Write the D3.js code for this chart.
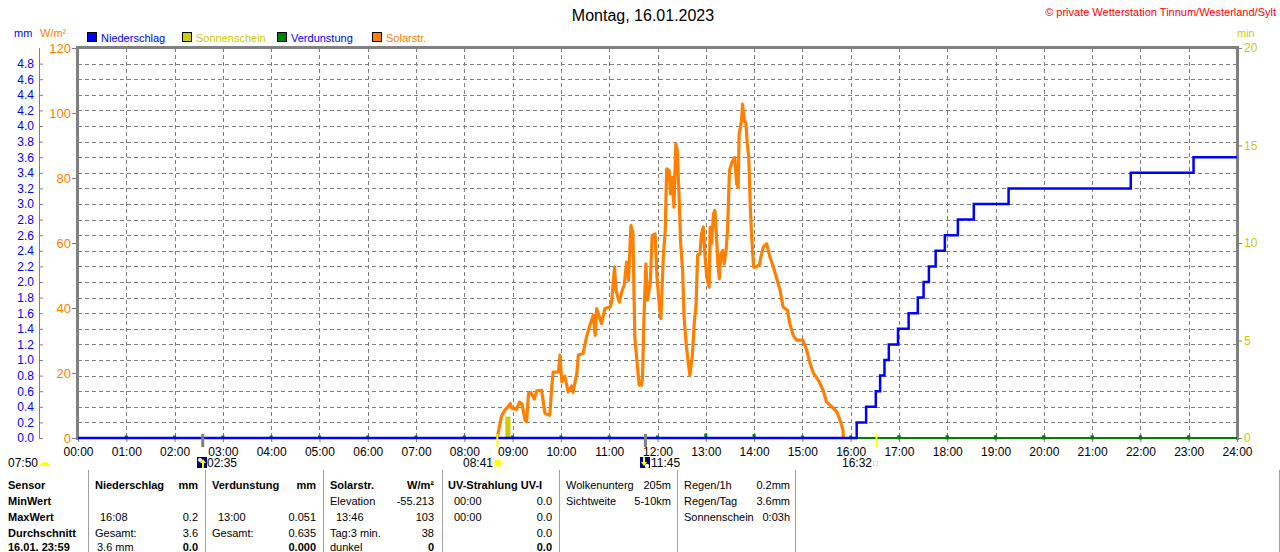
<!DOCTYPE html>
<html><head><meta charset="utf-8">
<script src="https://cdn.jsdelivr.net/npm/d3@7"></script>
<style>
body{margin:0;background:#fff;}
svg text{font-family:"Liberation Sans",Arial,sans-serif;font-size:12px;}
</style></head>
<body><svg id="c" width="1280" height="552"></svg>
<script>
// ---------- data ----------
const hourLabels = ["00:00","01:00","02:00","03:00","04:00","05:00","06:00","07:00","08:00","09:00","10:00","11:00","12:00","13:00","14:00","15:00","16:00","17:00","18:00","19:00","20:00","21:00","22:00","23:00","24:00"];
const mmTicks = [0.0,0.2,0.4,0.6,0.8,1.0,1.2,1.4,1.6,1.8,2.0,2.2,2.4,2.6,2.8,3.0,3.2,3.4,3.6,3.8,4.0,4.2,4.4,4.6,4.8];
const wTicks = [0,20,40,60,80,100,120];
const minTicks = [0,5,10,15,20];

// Niederschlag (cumulative mm), time in hours
const rainTime  = [0, 16.125, 16.32, 16.52, 16.61, 16.70, 16.79, 16.98, 17.20, 17.39, 17.51, 17.62, 17.76, 17.95, 18.22, 18.55, 19.27, 21.80, 23.10, 24];
const rainValue = [0, 0.2, 0.4, 0.6, 0.8, 1.0, 1.2, 1.4, 1.6, 1.8, 2.0, 2.2, 2.4, 2.6, 2.8, 3.0, 3.2, 3.4, 3.6, 3.6];

// Solarstrahlung W/m², time in hours
const solarTime  = [8.68,8.72,8.77,8.84,8.90,8.95,8.98,9.08,9.14,9.19,9.26,9.29,9.33,9.38,9.45,9.50,9.60,9.67,9.77,9.81,9.84,9.95,9.98,10.02,10.08,10.15,10.22,10.25,10.33,10.36,10.46,10.53,10.60,10.67,10.71,10.74,10.84,10.91,11.02,11.05,11.11,11.14,11.21,11.26,11.31,11.36,11.40,11.45,11.49,11.51,11.53,11.58,11.62,11.67,11.69,11.72,11.76,11.79,11.85,11.89,11.95,11.99,12.04,12.07,12.12,12.16,12.19,12.24,12.27,12.31,12.34,12.38,12.41,12.45,12.48,12.52,12.55,12.60,12.64,12.67,12.72,12.76,12.80,12.83,12.88,12.91,12.95,12.98,13.02,13.07,13.09,13.12,13.16,13.19,13.23,13.25,13.28,13.31,13.35,13.38,13.42,13.45,13.49,13.54,13.60,13.64,13.67,13.69,13.74,13.76,13.80,13.83,13.86,13.89,13.92,13.95,13.99,14.04,14.11,14.14,14.19,14.26,14.33,14.40,14.47,14.54,14.60,14.69,14.74,14.81,14.88,15.01,15.09,15.16,15.23,15.33,15.43,15.50,15.61,15.71,15.78,15.84,15.85];
const solarValue = [0,3,6.7,8.6,9.5,10.6,9.2,8.8,11,10.6,5.5,5,13.7,14,12,14.5,14.7,7.6,7,15.7,20.3,20.3,25.5,17.3,19,14.2,16,14,19.9,25.5,26,31.1,34.7,37.8,31.6,39.8,35.2,39.8,40.3,41.8,52.6,45.4,41.8,45,47,54.1,48.5,65.4,63.3,47.5,31.1,22.9,16.3,16.3,18.8,37.2,53.6,42.4,47.5,62.3,62.8,49.5,40.3,36.7,55.6,63.8,82.8,82.3,75.1,80.2,71,90.5,88.4,73,59.8,51.6,37.2,28,22.9,19.3,25,35.2,41.3,56.2,56.7,62.8,64.9,56.7,49.5,46.4,64.9,59.8,69,70,59.8,53.6,49,56.7,57.7,53.6,57.7,63.8,82.3,84.8,86.3,78.2,77.1,93.5,97.6,102.7,97.6,97,90.5,86.3,72,61.8,52.6,52.6,53.4,55.6,58.7,59.8,55.6,52.6,49,45.4,40.3,39.3,35.2,31.6,30.1,30.1,27,22.9,19.9,17.8,14.7,11.1,9.6,8.1,5.5,2.5,0];

// Sonnenschein (min)
const sunTime  = [8.85];
const sunWidth = [0.105];
const sunValue = [1.1];

// Verdunstung (mm) hourly
const evapHour  = [1,2,3,4,5,6,7,8,9,10,11,12,13,14,15,16,17,18,19,20,21,22,23];
const evapValue = [0,0,0,0,0,0,0,0,0,0,0,0,0.051,0.045,0,0,0,0,0,0,0,0,0];

// events below the axis
const sunriseTime = 8.683, sunsetTime = 16.533, moonriseTime = 2.583, moonsetTime = 11.75;

const legendNames  = ["Niederschlag","Sonnenschein","Verdunstung","Solarstr."];
const tableHead = [["Sensor","MinWert","MaxWert","Durchschnitt","16.01. 23:59"]];

// ---------- setup ----------
const svg = d3.select("#c");
const L = 78, R = 1237, T = 48, B = 438;
const x = d3.scaleLinear().domain([0,24]).range([L,R]);
const yW = d3.scaleLinear().domain([0,120]).range([B,T]);
const yMM = d3.scaleLinear().domain([0,5]).range([B,T]);
const yMin = d3.scaleLinear().domain([0,20]).range([B,T]);
const GRAY = "#808080", BLUE = "#0000ff", ORANGE = "#ff8000", OLIVE = "#cccc00", GREEN = "#008000";

// title
svg.append("text").attr("x",643).attr("y",21).attr("text-anchor","middle").style("font-size","16px").text("Montag, 16.01.2023");
svg.append("text").attr("x",1276).attr("y",16).attr("text-anchor","end").attr("fill","#ff0000").style("font-size","11px").text("© private Wetterstation Tinnum/Westerland/Sylt");

// unit labels
svg.append("text").attr("x",14).attr("y",37).attr("fill",BLUE).style("font-size","11px").text("mm");
svg.append("text").attr("x",40).attr("y",37).attr("fill",ORANGE).style("font-size","11px").text("W/m²");
svg.append("text").attr("x",1237).attr("y",37).attr("fill",OLIVE).style("font-size","11px").text("min");

// legend
const legColorsBox = [BLUE, OLIVE, GREEN, ORANGE];
const legColorsText = [BLUE, OLIVE, BLUE, ORANGE];
const legX = [87, 182, 277, 372];
legendNames.forEach((n,i)=>{
  svg.append("rect").attr("x",legX[i]+0.5).attr("y",32.5).attr("width",9).attr("height",9).attr("fill",legColorsBox[i]).attr("stroke","#000");
  svg.append("text").attr("x",legX[i]+14).attr("y",42).attr("fill",legColorsText[i]).style("font-size","11px").text(n);
});

// grid
const grid = svg.append("g");
mmTicks.filter(v=>v>0).forEach(v=>{
  grid.append("line").attr("x1",L).attr("x2",R).attr("y1",Math.round(yMM(v))+0.5).attr("y2",Math.round(yMM(v))+0.5)
    .attr("stroke",GRAY).attr("stroke-dasharray","4,3");
});
d3.range(1,24).forEach(h=>{
  grid.append("line").attr("x1",Math.round(x(h))+0.5).attr("x2",Math.round(x(h))+0.5).attr("y1",T).attr("y2",B)
    .attr("stroke",GRAY).attr("stroke-dasharray","4,3");
});

// left mm axis
const aMM = d3.axisRight(yMM).tickValues(mmTicks).tickSize(4).tickFormat(d3.format(".1f"));
const gMM = svg.append("g").attr("transform","translate(39,0)").call(aMM);
gMM.select(".domain").attr("stroke",GRAY).attr("d",`M0.5,${T}V${B}`);
gMM.selectAll(".tick line").attr("stroke",GRAY);
gMM.selectAll(".tick text").attr("x",-5).attr("text-anchor","end").attr("fill",BLUE).style("font-size","12px").attr("font-family","Liberation Sans, Arial");

// W/m² axis
const aW = d3.axisLeft(yW).tickValues(wTicks).tickSize(5);
const gW = svg.append("g").attr("transform","translate(77,0)").call(aW);
gW.select(".domain").remove();
gW.selectAll(".tick line").attr("stroke",GRAY);
gW.selectAll(".tick text").attr("x",-6).attr("fill",ORANGE).style("font-size","13px").attr("font-family","Liberation Sans, Arial");

// right min axis
const aMin = d3.axisRight(yMin).tickValues(minTicks).tickSize(4);
const gMin = svg.append("g").attr("transform","translate(1238,0)").call(aMin);
gMin.select(".domain").remove();
gMin.selectAll(".tick line").attr("stroke",GRAY);
gMin.selectAll(".tick text").attr("x",6).attr("fill",OLIVE).style("font-size","12px").attr("font-family","Liberation Sans, Arial");

// x axis labels
const aX = d3.axisBottom(x).tickValues(d3.range(0,25)).tickSize(4).tickFormat((d,i)=>hourLabels[i]);
const gX = svg.append("g").attr("transform",`translate(0,${B})`).call(aX);
gX.select(".domain").remove();
gX.selectAll(".tick line").attr("stroke",GRAY);
gX.selectAll(".tick text").attr("y",9).attr("fill","#000").style("font-size","12px").attr("font-family","Liberation Sans, Arial");

// frame
svg.append("line").attr("x1",L-1).attr("x2",R+1).attr("y1",T-0.5).attr("y2",T-0.5).attr("stroke",GRAY).attr("stroke-width",3);
svg.append("line").attr("x1",L-0.5).attr("x2",L-0.5).attr("y1",T-2).attr("y2",B+2).attr("stroke",GRAY).attr("stroke-width",3);
svg.append("line").attr("x1",R+0.5).attr("x2",R+0.5).attr("y1",T-2).attr("y2",B+2).attr("stroke",GRAY).attr("stroke-width",3);

// sunshine bars
sunTime.forEach((t,i)=>{
  svg.append("rect").attr("x",x(t)).attr("y",yMin(sunValue[i])).attr("width",x(t+sunWidth[i])-x(t)).attr("height",B-yMin(sunValue[i])).attr("fill",OLIVE);
});

// evaporation zero line & markers
svg.append("line").attr("x1",L).attr("x2",R).attr("y1",B).attr("y2",B).attr("stroke",GREEN).attr("stroke-width",2);
evapHour.forEach((h,i)=>{
  const top = Math.min(yMM(evapValue[i]), B-2);
  svg.append("rect").attr("x",x(h)-1.5).attr("y",top-0.5).attr("width",3).attr("height",B-top+1.5).attr("fill",GREEN);
});

// solar line
const solarData = solarTime.map((t,i)=>[t,solarValue[i]]);
svg.append("path").datum(solarData)
  .attr("d",d3.line().x(d=>x(d[0])).y(d=>yW(d[1])))
  .attr("fill","none").attr("stroke",ORANGE).attr("stroke-width",3.2).attr("stroke-linejoin","round");

// rain line (blue)
const rainData = rainTime.map((t,i)=>[t,rainValue[i]]);
svg.append("path").datum(rainData)
  .attr("d",d3.line().curve(d3.curveStepAfter).x(d=>x(d[0])).y(d=>yMM(d[1])))
  .attr("fill","none").attr("stroke",BLUE).attr("stroke-width",2.5);
// green zero line visible after rain starts
svg.append("line").attr("x1",x(rainTime[1])+2).attr("x2",R).attr("y1",B).attr("y2",B).attr("stroke",GREEN).attr("stroke-width",2);
evapHour.filter(h=>h>rainTime[1]).forEach(h=>{
  svg.append("rect").attr("x",x(h)-1.5).attr("y",B-2.5).attr("width",3).attr("height",4).attr("fill",GREEN);
});

// event markers
svg.append("line").attr("x1",x(moonriseTime)).attr("x2",x(moonriseTime)).attr("y1",B-4).attr("y2",B+9).attr("stroke",GRAY).attr("stroke-width",3);
svg.append("line").attr("x1",x(moonsetTime)).attr("x2",x(moonsetTime)).attr("y1",B-4).attr("y2",B+9).attr("stroke",GRAY).attr("stroke-width",3);
svg.append("line").attr("x1",x(sunriseTime)).attr("x2",x(sunriseTime)).attr("y1",B-4).attr("y2",B+9).attr("stroke","#ffff00").attr("stroke-width",2);
svg.append("line").attr("x1",x(sunsetTime)).attr("x2",x(sunsetTime)).attr("y1",B-4).attr("y2",B+9).attr("stroke","#ffff00").attr("stroke-width",2);

// event labels
const ev = svg.append("g").style("font-size","12px");
ev.append("text").attr("x",8).attr("y",467).text("07:50");
ev.append("path").attr("d","M40,466 A5,4 0 0 1 50,466 Z").attr("fill","#ffff00");
ev.append("text").attr("x",463).attr("y",467).text("08:41");
ev.append("circle").attr("cx",498).attr("cy",463).attr("r",3.5).attr("fill","#ffff00");
d3.range(8).forEach(k=>{const a=k*Math.PI/4; ev.append("line").attr("x1",498+Math.cos(a)*4.5).attr("y1",463+Math.sin(a)*4.5).attr("x2",498+Math.cos(a)*6).attr("y2",463+Math.sin(a)*6).attr("stroke","#ffff00");});
ev.append("rect").attr("x",197).attr("y",457).attr("width",10).attr("height",11).attr("fill","#000080");
ev.append("circle").attr("cx",200).attr("cy",460).attr("r",2).attr("fill","#fff");
ev.append("path").attr("d","M203,459 L206,463 L204,463 L204,468 L202,468 L202,463 L200,463 Z").attr("fill","#ffff00");
ev.append("text").attr("x",207).attr("y",467).text("02:35");
ev.append("rect").attr("x",640).attr("y",457).attr("width",10).attr("height",11).attr("fill","#000080");
ev.append("circle").attr("cx",647).attr("cy",466).attr("r",2.2).attr("fill","#fff");
ev.append("path").attr("d","M644,466 L641,462 L643,462 L643,457 L645,457 L645,462 L647,462 Z").attr("fill","#ffff00");
ev.append("text").attr("x",651).attr("y",467).text("11:45");
ev.append("text").attr("x",842).attr("y",467).text("16:32");
ev.append("rect").attr("x",873.5).attr("y",461.5).attr("width",4).attr("height",4).attr("fill","none").attr("stroke","#ffff00");

// ---------- table ----------
const colLines = [88,205,323,442,559,677,795,1279];
colLines.forEach(cx=>{
  svg.append("line").attr("x1",cx+0.5).attr("x2",cx+0.5).attr("y1",470).attr("y2",552).attr("stroke","#a0a0a0").attr("stroke-width",1);
});
const rowY = [489,505,521,537,551];
const tb = svg.append("g").style("font-size","11px");
function t(xp,row,txt,bold,anchor){
  tb.append("text").attr("x",xp).attr("y",rowY[row]).attr("text-anchor",anchor||"start").style("font-weight",bold?"bold":"normal").style("font-size","11px").text(txt);
}
tableHead[0].forEach((s,i)=>t(8,i,s,true));
// Niederschlag
t(95,0,"Niederschlag",true); t(198,0,"mm",true,"end");
t(100,2,"16:08"); t(198,2,"0.2",false,"end");
t(95,3,"Gesamt:"); t(198,3,"3.6",false,"end");
t(97,4,"3.6 mm"); t(198,4,"0.0",true,"end");
// Verdunstung
t(212,0,"Verdunstung",true); t(316,0,"mm",true,"end");
t(218,2,"13:00"); t(316,2,"0.051",false,"end");
t(212,3,"Gesamt:"); t(316,3,"0.635",false,"end");
t(316,4,"0.000",true,"end");
// Solar
t(330,0,"Solarstr.",true); t(434,0,"W/m²",true,"end");
t(330,1,"Elevation"); t(434,1,"-55.213",false,"end");
t(336,2,"13:46"); t(434,2,"103",false,"end");
t(330,3,"Tag:3 min."); t(434,3,"38",false,"end");
t(330,4,"dunkel"); t(434,4,"0",true,"end");
// UV
t(448,0,"UV-Strahlung UV-I",true);
t(454,1,"00:00"); t(552,1,"0.0",false,"end");
t(454,2,"00:00"); t(552,2,"0.0",false,"end");
t(552,3,"0.0",false,"end");
t(552,4,"0.0",true,"end");
// Wolken
t(566,0,"Wolkenunterg"); t(671,0,"205m",false,"end");
t(566,1,"Sichtweite"); t(671,1,"5-10km",false,"end");
// Regen
t(684,0,"Regen/1h"); t(790,0,"0.2mm",false,"end");
t(684,1,"Regen/Tag"); t(790,1,"3.6mm",false,"end");
t(684,2,"Sonnenschein"); t(790,2,"0:03h",false,"end");
</script></body></html>
